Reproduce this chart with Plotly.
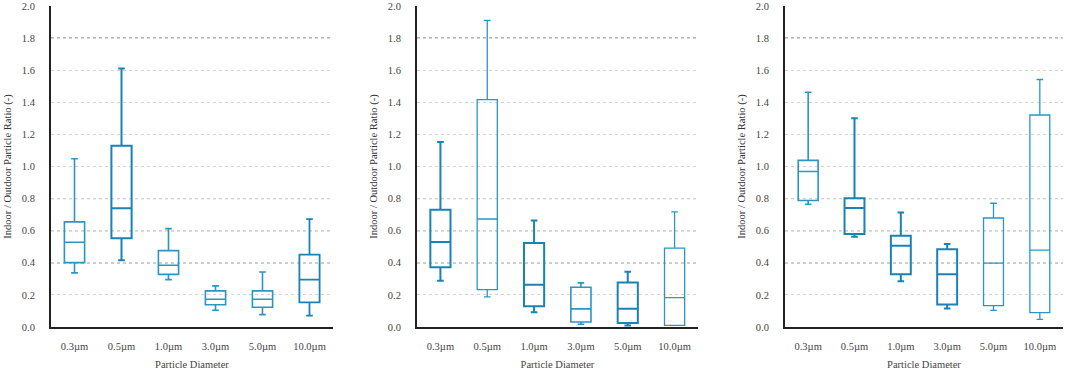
import plotly.graph_objects as go

categories = ["0.3\u00b5m", "0.5\u00b5m", "1.0\u00b5m", "3.0\u00b5m", "5.0\u00b5m", "10.0\u00b5m"]

# panel 1
p1_low = [0.337, 0.416, 0.295, 0.104, 0.077, 0.071]
p1_q1 = [0.401, 0.553, 0.328, 0.139, 0.123, 0.154]
p1_med = [0.528, 0.740, 0.385, 0.173, 0.173, 0.295]
p1_q3 = [0.655, 1.129, 0.476, 0.225, 0.225, 0.451]
p1_high = [1.048, 1.611, 0.613, 0.256, 0.343, 0.672]

# panel 2
p2_low = [0.288, 0.188, 0.092, 0.017, 0.010, 0.010]
p2_q1 = [0.373, 0.233, 0.129, 0.031, 0.025, 0.010]
p2_med = [0.529, 0.673, 0.263, 0.113, 0.113, 0.183]
p2_q3 = [0.731, 1.417, 0.523, 0.248, 0.277, 0.492]
p2_high = [1.152, 1.910, 0.663, 0.275, 0.344, 0.717]

# panel 3
p3_low = [0.765, 0.563, 0.285, 0.115, 0.104, 0.048]
p3_q1 = [0.788, 0.579, 0.329, 0.140, 0.133, 0.090]
p3_med = [0.969, 0.742, 0.506, 0.329, 0.398, 0.479]
p3_q3 = [1.038, 0.802, 0.569, 0.485, 0.679, 1.321]
p3_high = [1.463, 1.300, 0.713, 0.517, 0.771, 1.542]

y_ticks = [0.0, 0.2, 0.4, 0.6, 0.8, 1.0, 1.2, 1.4, 1.6, 1.8, 2.0]
dark_grid = [0.4, 0.6, 0.8, 1.8]

# line weight per box (style)
weights = [
    [1.6, 2.0, 1.6, 1.6, 1.6, 1.8],
    [2.0, 1.3, 2.0, 1.6, 2.0, 1.3],
    [1.6, 2.0, 2.0, 2.0, 1.3, 1.3],
]

panels = [
    (p1_low, p1_q1, p1_med, p1_q3, p1_high),
    (p2_low, p2_q1, p2_med, p2_q3, p2_high),
    (p3_low, p3_q1, p3_med, p3_q3, p3_high),
]

domains = [[51 / 1072, 333 / 1072], [417 / 1072, 698 / 1072], [785 / 1072, 1063 / 1072]]

fig = go.Figure()
FONT = "'Liberation Serif', 'Times New Roman', serif"

for pi, (lo, q1, md, q3, hi) in enumerate(panels):
    xa = "x" if pi == 0 else f"x{pi+1}"
    ya = "y" if pi == 0 else f"y{pi+1}"
    for ci, cat in enumerate(categories):
        w = weights[pi][ci]
        col = "#1a82b4" if w >= 1.8 else "#2a96c6"
        fig.add_trace(go.Box(
            x=[cat], q1=[q1[ci]], median=[md[ci]], q3=[q3[ci]],
            lowerfence=[lo[ci]], upperfence=[hi[ci]],
            xaxis=xa, yaxis=ya,
            fillcolor="rgba(255,255,255,0)",
            line=dict(color=col, width=w),
            width=0.43, whiskerwidth=0.33,
            boxpoints=False, showlegend=False,
        ))
    for g in dark_grid:
        fig.add_shape(type="line", xref=f"{xa} domain", yref=ya,
                      x0=0, x1=1, y0=g, y1=g,
                      line=dict(color="#505050", width=1, dash="dot"), layer="below")

layout = dict(
    width=1072, height=371,
    margin=dict(l=0, r=0, t=6, b=44),
    paper_bgcolor="white", plot_bgcolor="white",
    font=dict(family=FONT, size=10, color="#444444"),
)
for pi in range(3):
    xk = "xaxis" if pi == 0 else f"xaxis{pi+1}"
    yk = "yaxis" if pi == 0 else f"yaxis{pi+1}"
    layout[xk] = dict(
        domain=domains[pi], anchor="y" if pi == 0 else f"y{pi+1}",
        categoryorder="array", categoryarray=categories,
        range=[-0.5, 5.5],
        showline=True, linecolor="#222222", linewidth=2,
        ticks="outside", ticklen=8, tickcolor="rgba(0,0,0,0)",
        showgrid=False, zeroline=False,
        tickfont=dict(family=FONT, size=10.5, color="#444444"),
        title=dict(text="Particle Diameter", standoff=10,
                   font=dict(family=FONT, size=10.5, color="#444444")),
    )
    layout[yk] = dict(
        domain=[0, 1], anchor="x" if pi == 0 else f"x{pi+1}",
        range=[0, 2.0], tickvals=y_ticks, tickformat=".1f",
        showline=True, linecolor="#222222", linewidth=2,
        ticks="outside", ticklen=12, tickcolor="rgba(0,0,0,0)",
        showgrid=True, gridcolor="#d2d2d2", griddash="dot", gridwidth=1,
        zeroline=False,
        tickfont=dict(family=FONT, size=10.5, color="#444444"),
        title=dict(text="Indoor / Outdoor Particle Ratio (-)", standoff=8,
                   font=dict(family=FONT, size=10.5, color="#333333")),
    )
fig.update_layout(**layout)
fig.write_html("out.html", config={"displayModeBar": False},
               post_script="document.body.style.margin='0';")
